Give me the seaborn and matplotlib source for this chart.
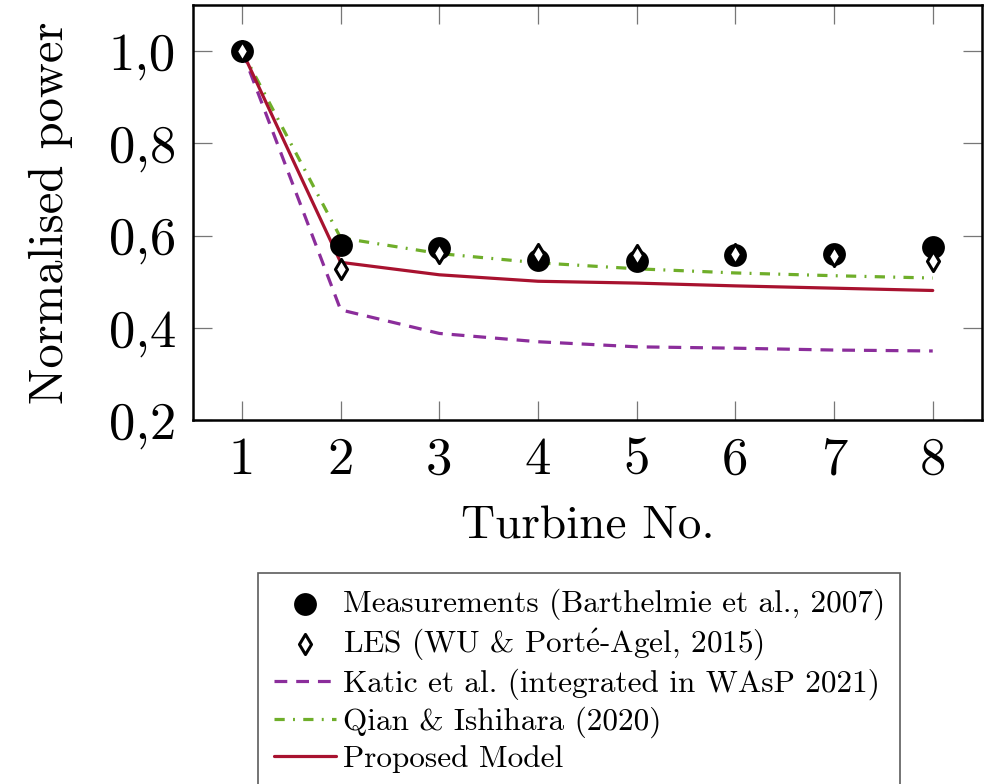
import numpy as np
import pandas as pd
import matplotlib
matplotlib.use('Agg')
import matplotlib.pyplot as plt
import seaborn as sns

turbines = [1, 2, 3, 4, 5, 6, 7, 8]
measurements = [1.0, 0.580, 0.573, 0.548, 0.544, 0.557, 0.559, 0.575]
les = [1.0, 0.528, 0.562, 0.561, 0.557, 0.559, 0.555, 0.544]
katic = [1.0, 0.439, 0.388, 0.370, 0.359, 0.356, 0.352, 0.350]
qian = [1.0, 0.595, 0.561, 0.541, 0.528, 0.519, 0.513, 0.508]
proposed = [1.0, 0.542, 0.515, 0.501, 0.497, 0.491, 0.486, 0.481]

y_ticks = [0.2, 0.4, 0.6, 0.8, 1.0]
y_tick_labels = ['0,2', '0,4', '0,6', '0,8', '1,0']

sns.set_style('ticks')
plt.rcParams['font.family'] = ['cmr10', 'DejaVu Serif']
plt.rcParams['axes.unicode_minus'] = False
plt.rcParams['mathtext.fontset'] = 'cm'
plt.rcParams['text.color'] = 'black'
plt.rcParams['axes.labelcolor'] = 'black'
plt.rcParams['xtick.labelcolor'] = 'black'
plt.rcParams['ytick.labelcolor'] = 'black'

fig = plt.figure(figsize=(9.93, 7.84), dpi=100)
ax = fig.add_axes([0.194, 0.464, 0.795, 0.53])

lw = 2.3
sns.lineplot(x=turbines, y=katic, ax=ax, color='#8b2d9b', lw=lw,
             label='Katic et al. (integrated in WAsP 2021)', legend=False)
ax.lines[-1].set_dashes((4.0, 2.8))
sns.lineplot(x=turbines, y=qian, ax=ax, color='#6fae2a', lw=lw,
             label='Qian & Ishihara (2020)', legend=False)
ax.lines[-1].set_dashes((3.2, 2.6, 0.6, 2.6))
sns.lineplot(x=turbines, y=proposed, ax=ax, color='#a8122f', lw=lw,
             label='Proposed Model', legend=False)

sns.scatterplot(x=turbines, y=measurements, ax=ax, color='black', s=270, marker='o',
                edgecolor='black', linewidth=0, zorder=3,
                label='Measurements (Barthelmie et al., 2007)', legend=False)
sns.scatterplot(x=turbines, y=les, ax=ax, color='white', s=105, marker='d',
                edgecolor='black', linewidth=2.2, zorder=4,
                label=r'LES (WU & Port$\mathrm{\acute{e}}$-Agel, 2015)', legend=False)

ax.set_xlim(0.5, 8.5)
ax.set_ylim(0.2, 1.1)
ax.set_xticks(turbines)
ax.set_xticklabels([str(t) for t in turbines])
ax.set_yticks(y_ticks)
ax.set_yticklabels(y_tick_labels)
ax.tick_params(axis='both', direction='in', length=14, width=0.9, color='#777777',
               top=True, right=True, labelsize=38, pad=12)
for s in ax.spines.values():
    s.set_linewidth(1.8)
    s.set_color('black')

ax.set_xlabel('Turbine No.', fontsize=34, labelpad=16)
ax.set_ylabel('Normalised power', fontsize=35, labelpad=26)

handles, labels = ax.get_legend_handles_labels()
hmap = dict(zip(labels, handles))
order = ['Measurements (Barthelmie et al., 2007)',
         r'LES (WU & Port$\mathrm{\acute{e}}$-Agel, 2015)',
         'Katic et al. (integrated in WAsP 2021)', 'Qian & Ishihara (2020)', 'Proposed Model']
leg = fig.legend([hmap[l] for l in order], order, loc='upper left',
                 bbox_to_anchor=(0.26, 0.269), fontsize=22.5, frameon=True, fancybox=False,
                 edgecolor='#333333', handlelength=2.0, handletextpad=0.2,
                 labelspacing=0.21, borderpad=0.5, borderaxespad=0)
leg.get_frame().set_linewidth(1.2)

fig.savefig('out.png', dpi=100)
